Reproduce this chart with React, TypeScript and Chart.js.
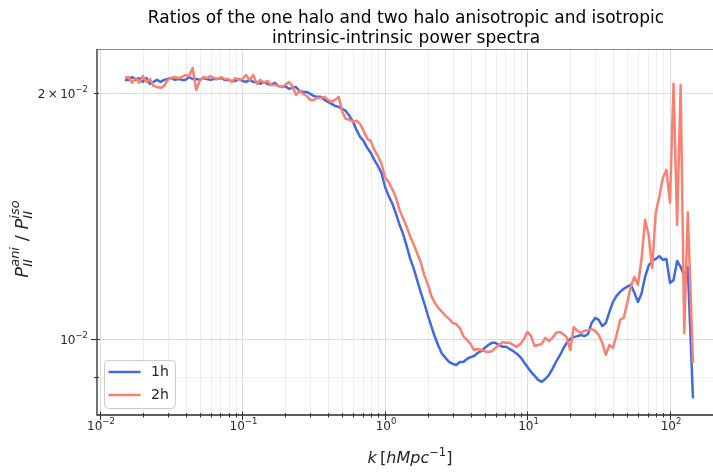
import React, { useEffect, useRef } from "react";
import { Chart, registerables } from "chart.js";

Chart.register(...registerables);

// wavenumber k [h/Mpc]
const kValues = [
  0.014962, 0.015849, 0.016788, 0.017783, 0.018836, 0.019953, 0.021135, 0.022387, 0.023714, 0.025119,
  0.026607, 0.028184, 0.029854, 0.031623, 0.033497, 0.035481, 0.037584, 0.039811, 0.04217, 0.044668,
  0.047315, 0.050119, 0.053088, 0.056234, 0.059566, 0.063096, 0.066834, 0.070795, 0.074989, 0.079433,
  0.08414, 0.089125, 0.094406, 0.1, 0.10593, 0.1122, 0.11885, 0.12589, 0.13335, 0.14125,
  0.14962, 0.15849, 0.16788, 0.17783, 0.18836, 0.19953, 0.21135, 0.22387, 0.23714, 0.25119,
  0.26607, 0.28184, 0.29854, 0.31623, 0.33497, 0.35481, 0.37584, 0.39811, 0.4217, 0.44668,
  0.47315, 0.50119, 0.53088, 0.56234, 0.59566, 0.63096, 0.66834, 0.70795, 0.74989, 0.79433,
  0.8414, 0.89125, 0.94406, 1, 1.0593, 1.122, 1.1885, 1.2589, 1.3335, 1.4125,
  1.4962, 1.5849, 1.6788, 1.7783, 1.8836, 1.9953, 2.1135, 2.2387, 2.3714, 2.5119,
  2.6607, 2.8184, 2.9854, 3.1623, 3.3497, 3.5481, 3.7584, 3.9811, 4.217, 4.4668,
  4.7315, 5.0119, 5.3088, 5.6234, 5.9566, 6.3096, 6.6834, 7.0795, 7.4989, 7.9433,
  8.414, 8.9125, 9.4406, 10, 10.593, 11.22, 11.885, 12.589, 13.335, 14.125,
  14.962, 15.849, 16.788, 17.783, 18.836, 19.953, 21.135, 22.387, 23.714, 25.119,
  26.607, 28.184, 29.854, 31.623, 33.497, 35.481, 37.584, 39.811, 42.17, 44.668,
  47.315, 50.119, 53.088, 56.234, 59.566, 63.096, 66.834, 70.795, 74.989, 79.433,
  84.14, 89.125, 94.406, 100, 105.93, 112.2, 118.85, 125.89, 133.35, 145.0,
];

// one halo ratio P_II^ani / P_II^iso
const ratio1h = [
  0.02077, 0.02077, 0.02094, 0.02077, 0.02088, 0.02065, 0.02088, 0.02054, 0.02065, 0.02077,
  0.02065, 0.02077, 0.02082, 0.02088, 0.02077, 0.02082, 0.02077, 0.02077, 0.02094, 0.02082,
  0.02082, 0.02077, 0.02088, 0.02082, 0.02077, 0.02082, 0.02082, 0.02088, 0.02077, 0.02077,
  0.02071, 0.02071, 0.02082, 0.02071, 0.02065, 0.02077, 0.02065, 0.02065, 0.02054, 0.02065,
  0.02054, 0.02048, 0.0206, 0.02042, 0.02036, 0.02042, 0.02025, 0.02031, 0.02036, 0.02013,
  0.02008, 0.02008, 0.01997, 0.01985, 0.0198, 0.0198, 0.01963, 0.01952, 0.01941, 0.0193,
  0.01925, 0.01914, 0.01903, 0.01877, 0.01846, 0.01804, 0.01769, 0.01749, 0.01715, 0.01691,
  0.01658, 0.0163, 0.01598, 0.01537, 0.01498, 0.01468, 0.01428, 0.01384, 0.01349, 0.01305,
  0.01258, 0.01223, 0.01182, 0.01143, 0.01108, 0.01071, 0.01038, 0.01007, 0.00981, 0.0096,
  0.00949, 0.00938, 0.00933, 0.0093, 0.00938, 0.00938, 0.00946, 0.00951, 0.00954, 0.00962,
  0.00967, 0.00976, 0.00984, 0.0099, 0.0099, 0.00984, 0.00979, 0.00979, 0.00973, 0.00967,
  0.0096, 0.00951, 0.00938, 0.00925, 0.00912, 0.00902, 0.00892, 0.00887, 0.00894, 0.00904,
  0.0092, 0.00938, 0.00954, 0.00973, 0.0099, 0.01001, 0.01006, 0.01009, 0.01012, 0.01009,
  0.01015, 0.01047, 0.01062, 0.01056, 0.01038, 0.01047, 0.0108, 0.01111, 0.0113, 0.01143,
  0.01153, 0.0116, 0.01166, 0.0114, 0.01111, 0.01137, 0.01192, 0.0123, 0.01247, 0.01254,
  0.01264, 0.01251, 0.01254, 0.01172, 0.01182, 0.01247, 0.01226, 0.01196, 0.01226, 0.00847,
];

// two halo ratio P_II^ani / P_II^iso
const ratio2h = [
  0.02088, 0.02094, 0.0206, 0.02088, 0.0206, 0.021, 0.02065, 0.02082, 0.02042, 0.02036,
  0.02031, 0.02042, 0.02077, 0.02088, 0.02094, 0.02088, 0.02094, 0.02106, 0.021, 0.02148,
  0.02019, 0.02071, 0.02094, 0.02088, 0.021, 0.02088, 0.02082, 0.02094, 0.02082, 0.02082,
  0.02065, 0.02088, 0.02077, 0.02082, 0.02106, 0.02077, 0.02106, 0.02054, 0.02077, 0.0206,
  0.02071, 0.02048, 0.02048, 0.02042, 0.02036, 0.02048, 0.02065, 0.02042, 0.01991, 0.02013,
  0.01997, 0.01985, 0.01963, 0.01963, 0.01974, 0.01974, 0.0198, 0.01963, 0.01952, 0.01963,
  0.0198, 0.01898, 0.01861, 0.01856, 0.01846, 0.01851, 0.01835, 0.01799, 0.01759, 0.01749,
  0.01705, 0.01677, 0.0164, 0.0158, 0.01558, 0.01528, 0.01494, 0.01444, 0.01408, 0.01376,
  0.01338, 0.01308, 0.01275, 0.01244, 0.01199, 0.01169, 0.0113, 0.01108, 0.01092, 0.0108,
  0.01068, 0.01059, 0.01047, 0.01044, 0.01032, 0.01009, 0.00998, 0.00987, 0.0097, 0.00973,
  0.0097, 0.00967, 0.00965, 0.00967, 0.00976, 0.00984, 0.00992, 0.0099, 0.0099, 0.00984,
  0.00979, 0.00987, 0.01001, 0.01021, 0.01009, 0.00981, 0.00984, 0.00987, 0.01004, 0.00995,
  0.01004, 0.01018, 0.01021, 0.01015, 0.01006, 0.0097, 0.01035, 0.01024, 0.01018, 0.01024,
  0.01026, 0.01029, 0.01024, 0.01012, 0.0099, 0.00957, 0.00984, 0.00976, 0.01012, 0.01056,
  0.01062, 0.01108, 0.0116, 0.01192, 0.01166, 0.01251, 0.014, 0.01342, 0.01223, 0.01428,
  0.01494, 0.01576, 0.01612, 0.01469, 0.02054, 0.0138, 0.02048, 0.01017, 0.0143, 0.00935,
];

const seriesNames = ["1h", "2h"];
const titleLines = [
  "Ratios of the one halo and two halo anisotropic and isotropic",
  "intrinsic-intrinsic power spectra",
];
const xTickExponents = [-2, -1, 0, 1, 2];
const yTickValues = [0.01, 0.02];
const yTickMantissas = ["", "2"];
const yTickExponents = [-2, -2];

const X_MIN = 0.009527;
const X_MAX = 200.4;
const Y_MIN = 0.008078;
const Y_MAX = 0.022659;

const COLORS = ["#4169e1", "#fa8072"];
const FAMILY = '"DejaVu Sans", sans-serif';
const font = (size: number, italic = false) => `${italic ? "italic " : ""}${size}px ${FAMILY}`;
const TEXT = "#262626";

type Piece = { t: string; f: string; dy?: number; stack?: boolean };

function layoutPieces(ctx: CanvasRenderingContext2D, pieces: Piece[]) {
  let x = 0;
  let prevStart = 0;
  let prevW = 0;
  const items: { p: Piece; x: number }[] = [];
  for (const p of pieces) {
    ctx.font = p.f;
    const w = ctx.measureText(p.t).width;
    if (p.stack) {
      items.push({ p, x: prevStart });
      const end = Math.max(prevStart + prevW, prevStart + w);
      prevW = end - prevStart;
      x = end;
    } else {
      items.push({ p, x });
      prevStart = x;
      prevW = w;
      x += w;
    }
  }
  return { items, width: x };
}

function drawPieces(
  ctx: CanvasRenderingContext2D,
  pieces: Piece[],
  x: number,
  baseline: number,
  align: "left" | "center" | "right"
) {
  const { items, width } = layoutPieces(ctx, pieces);
  const start = align === "left" ? x : align === "center" ? x - width / 2 : x - width;
  ctx.textAlign = "left";
  ctx.textBaseline = "alphabetic";
  for (const it of items) {
    ctx.font = it.p.f;
    ctx.fillText(it.p.t, start + it.x, baseline + (it.p.dy || 0));
  }
}

const supExp = (e: number) => (e < 0 ? "\u2212" + Math.abs(e) : String(e));

const decorPlugin = {
  id: "decor",
  beforeDraw(chart: any) {
    const { ctx, width, height } = chart;
    ctx.save();
    ctx.fillStyle = "#ffffff";
    ctx.fillRect(0, 0, width, height);
    ctx.restore();
  },
  beforeDatasetsDraw(chart: any) {
    const { ctx, chartArea: a, scales } = chart;
    const xs = scales.x;
    const ys = scales.y;
    ctx.save();
    ctx.lineWidth = 1;
    for (let e = -3; e <= 2; e++) {
      for (let m = 1; m <= 9; m++) {
        const v = m * Math.pow(10, e);
        if (v < X_MIN || v > X_MAX) continue;
        const px = Math.round(xs.getPixelForValue(v)) + 0.5;
        ctx.strokeStyle = m === 1 ? "#dcdcdc" : "#eeeeee";
        ctx.beginPath();
        ctx.moveTo(px, a.top);
        ctx.lineTo(px, a.bottom);
        ctx.stroke();
      }
    }
    for (let e = -3; e <= -1; e++) {
      for (let m = 1; m <= 9; m++) {
        const v = m * Math.pow(10, e);
        if (v < Y_MIN || v > Y_MAX) continue;
        const py = Math.round(ys.getPixelForValue(v)) + 0.5;
        ctx.strokeStyle = m === 1 || m === 2 ? "#dcdcdc" : "#eeeeee";
        ctx.beginPath();
        ctx.moveTo(a.left, py);
        ctx.lineTo(a.right, py);
        ctx.stroke();
      }
    }
    ctx.restore();
  },
  afterDraw(chart: any) {
    const { ctx, chartArea: a, scales } = chart;
    const xs = scales.x;
    const ys = scales.y;
    ctx.save();

    // spines
    ctx.strokeStyle = "#8a8a8a";
    ctx.lineWidth = 1;
    ctx.beginPath();
    ctx.moveTo(a.left, a.top + 0.5);
    ctx.lineTo(a.right, a.top + 0.5);
    ctx.stroke();
    ctx.strokeStyle = "#2a2a2a";
    ctx.lineWidth = 1.3;
    ctx.beginPath();
    ctx.moveTo(a.left, a.top);
    ctx.lineTo(a.left, a.bottom);
    ctx.lineTo(a.right, a.bottom);
    ctx.stroke();

    // ticks
    ctx.strokeStyle = "#333333";
    ctx.lineWidth = 1;
    for (let e = -3; e <= 2; e++) {
      for (let m = 1; m <= 9; m++) {
        const v = m * Math.pow(10, e);
        if (v < X_MIN || v > X_MAX) continue;
        const px = Math.round(xs.getPixelForValue(v)) + 0.5;
        const major = m === 1;
        ctx.beginPath();
        ctx.moveTo(px, a.bottom - (major ? 3.5 : 2));
        ctx.lineTo(px, a.bottom + (major ? 5 : 2.5));
        ctx.stroke();
      }
    }
    for (let e = -3; e <= -1; e++) {
      for (let m = 1; m <= 9; m++) {
        const v = m * Math.pow(10, e);
        if (v < Y_MIN || v > Y_MAX) continue;
        const py = Math.round(ys.getPixelForValue(v)) + 0.5;
        const major = m === 1;
        ctx.beginPath();
        ctx.moveTo(a.left - (major ? 6 : 3), py);
        ctx.lineTo(a.left + (major ? 3 : 2), py);
        ctx.stroke();
      }
    }

    // tick labels
    ctx.fillStyle = TEXT;
    for (const e of xTickExponents) {
      const px = xs.getPixelForValue(Math.pow(10, e));
      drawPieces(
        ctx,
        [
          { t: "10", f: font(12) },
          { t: supExp(e), f: font(8.5), dy: -6.5 },
        ],
        px + 1,
        430,
        "center"
      );
    }
    yTickValues.forEach((v, i) => {
      const py = ys.getPixelForValue(v);
      const pieces: Piece[] = [];
      if (yTickMantissas[i]) {
        pieces.push({ t: yTickMantissas[i], f: font(12) });
        pieces.push({ t: "\u2009\u00d7\u2009", f: font(12) });
      }
      pieces.push({ t: "10", f: font(12) });
      pieces.push({ t: supExp(yTickExponents[i]), f: font(8.5), dy: -6 });
      drawPieces(ctx, pieces, 88, py + 4.5, "right");
    });

    // x axis label
    drawPieces(
      ctx,
      [
        { t: "k", f: font(16, true) },
        { t: "\u2009[", f: font(16) },
        { t: "hMpc", f: font(16, true) },
        { t: "\u2212" + "1", f: font(11.5), dy: -7 },
        { t: "]", f: font(16) },
      ],
      410,
      463,
      "center"
    );

    // y axis label (rotated)
    ctx.save();
    ctx.translate(28, 239);
    ctx.rotate(-Math.PI / 2);
    drawPieces(
      ctx,
      [
        { t: "P", f: font(18, true) },
        { t: "II", f: font(13, true), dy: 4 },
        { t: "ani", f: font(13, true), dy: -9, stack: true },
        { t: " / ", f: font(18) },
        { t: "P", f: font(18, true) },
        { t: "II", f: font(13, true), dy: 4 },
        { t: "iso", f: font(13, true), dy: -9, stack: true },
      ],
      0,
      0,
      "center"
    );
    ctx.restore();

    // title
    ctx.fillStyle = "#000000";
    ctx.font = font(17);
    ctx.textAlign = "center";
    ctx.textBaseline = "alphabetic";
    ctx.fillText(titleLines[0], 406, 23);
    ctx.fillText(titleLines[1], 406, 43);

    // legend
    const lx = 104.5;
    const ly = 360.5;
    const lw = 71;
    const lh = 48;
    const r = 4;
    ctx.beginPath();
    ctx.moveTo(lx + r, ly);
    ctx.lineTo(lx + lw - r, ly);
    ctx.quadraticCurveTo(lx + lw, ly, lx + lw, ly + r);
    ctx.lineTo(lx + lw, ly + lh - r);
    ctx.quadraticCurveTo(lx + lw, ly + lh, lx + lw - r, ly + lh);
    ctx.lineTo(lx + r, ly + lh);
    ctx.quadraticCurveTo(lx, ly + lh, lx, ly + lh - r);
    ctx.lineTo(lx, ly + r);
    ctx.quadraticCurveTo(lx, ly, lx + r, ly);
    ctx.closePath();
    ctx.fillStyle = "rgba(255,255,255,0.8)";
    ctx.fill();
    ctx.strokeStyle = "#cccccc";
    ctx.lineWidth = 1;
    ctx.stroke();
    seriesNames.forEach((name, i) => {
      const y = 372 + i * 23;
      ctx.strokeStyle = COLORS[i];
      ctx.lineWidth = 2.5;
      ctx.beginPath();
      ctx.moveTo(108.5, y);
      ctx.lineTo(140.5, y);
      ctx.stroke();
      ctx.fillStyle = TEXT;
      ctx.font = font(14);
      ctx.textAlign = "left";
      ctx.textBaseline = "middle";
      ctx.fillText(name, 151, y + 0.5);
    });

    ctx.restore();
  },
};

export default function App() {
  const canvasRef = useRef<HTMLCanvasElement | null>(null);

  useEffect(() => {
    document.body.style.margin = "0";
    const canvas = canvasRef.current;
    if (!canvas) return;
    const chart = new Chart(canvas, {
      type: "line",
      data: {
        datasets: [
          {
            label: seriesNames[0],
            data: kValues.map((k, i) => ({ x: k, y: ratio1h[i] })),
            borderColor: COLORS[0],
            borderWidth: 2.5,
            pointRadius: 0,
            tension: 0,
            fill: false,
            borderJoinStyle: "round",
            order: 1,
          },
          {
            label: seriesNames[1],
            data: kValues.map((k, i) => ({ x: k, y: ratio2h[i] })),
            borderColor: COLORS[1],
            borderWidth: 2.5,
            pointRadius: 0,
            tension: 0,
            fill: false,
            borderJoinStyle: "round",
            order: 0,
          },
        ],
      },
      options: {
        responsive: false,
        animation: false,
        devicePixelRatio: 1,
        layout: { padding: { left: 97, top: 49, right: 0, bottom: 57 } },
        scales: {
          x: { type: "logarithmic", min: X_MIN, max: X_MAX, display: false },
          y: { type: "logarithmic", min: Y_MIN, max: Y_MAX, display: false },
        },
        plugins: {
          legend: { display: false },
          tooltip: { enabled: false },
          title: { display: false },
        },
        events: [],
      },
      plugins: [decorPlugin],
    } as any);
    return () => chart.destroy();
  }, []);

  return (
    <div style={{ position: "absolute", left: 0, top: 0, width: 713, height: 472 }}>
      <canvas ref={canvasRef} width={713} height={472} style={{ display: "block", width: 713, height: 472 }} />
    </div>
  );
}
